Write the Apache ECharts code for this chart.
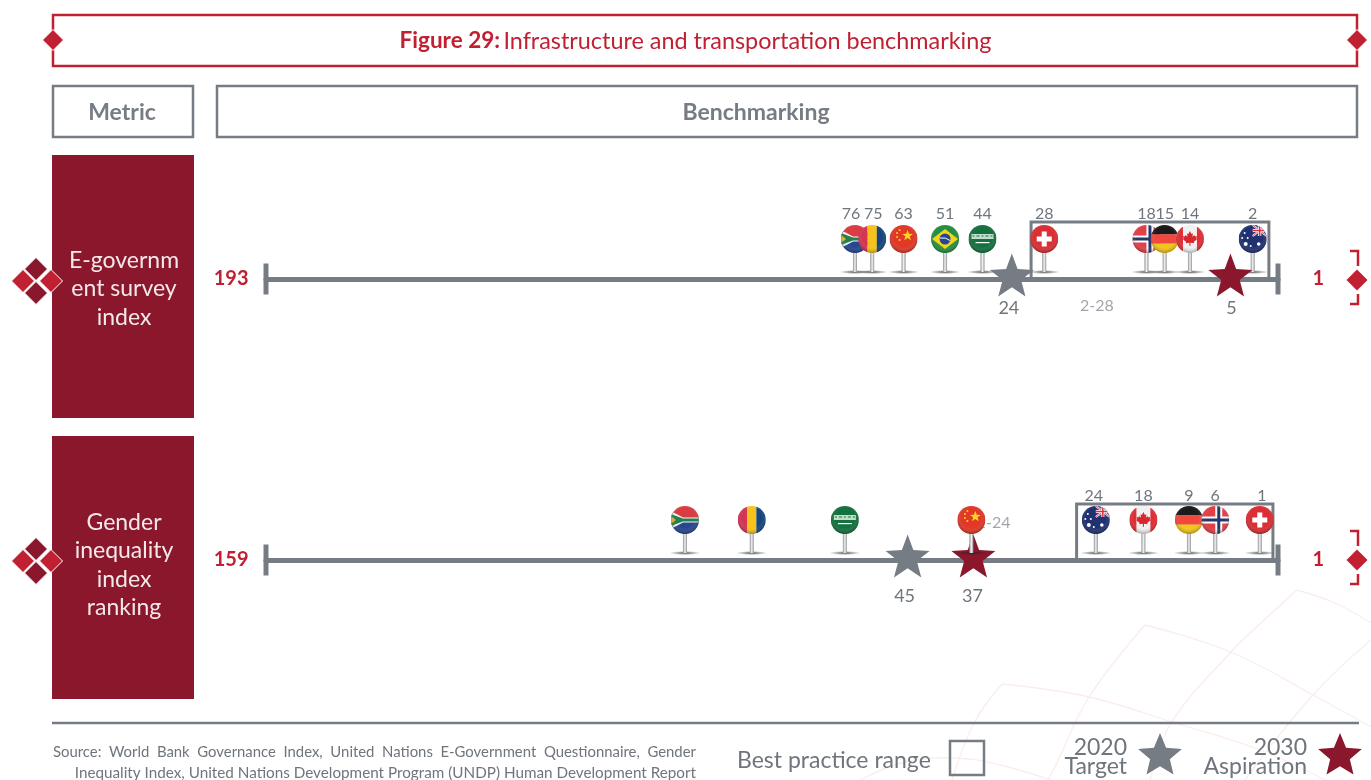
<!DOCTYPE html>
<html>
<head>
<meta charset="utf-8">
<title>Infrastructure and transportation benchmarking</title>
<script src="https://cdn.jsdelivr.net/npm/echarts@6/dist/echarts.min.js"></script>
<style>
html,body{margin:0;padding:0;background:#fff;overflow:hidden}
#chart{width:1371px;height:780px}
</style>
</head>
<body>
<div id="chart"></div>
<script>
// values. track = position along the line, 0 = worst rank end, 100 = rank 1 end
var metrics = ['E-governm\nent survey\nindex', 'Gender\ninequality\nindex\nranking'];
var worstRank = [193, 159];

var govCountries = ['za', 'ro', 'cn', 'br', 'sa', 'ch', 'no', 'de', 'ca', 'au'];
var govRanks = [76, 75, 63, 51, 44, 28, 18, 15, 14, 2];
var govTrack = [58.2, 59.9, 63.0, 67.1, 70.8, 76.9, 87.0, 88.8, 91.3, 97.5];
var govTarget = {rank: 24, track: 73.7};
var govAspiration = {rank: 5, track: 95.3};
var govRange = {label: '2-28', from: 75.6, to: 99.1, labelTrack: 82.1};

var genderCountries = ['za', 'ro', 'sa', 'cn', 'au', 'ca', 'de', 'no', 'ch'];
var genderRanks = [null, null, null, null, 24, 18, 9, 6, 1];
var genderTrack = [41.4, 48.0, 57.2, 69.7, 82.0, 86.7, 91.2, 93.8, 98.2];
var genderTarget = {rank: 45, track: 63.4};
var genderAspiration = {rank: 37, track: 69.9};
var genderRange = {label: '1-24', from: 80.1, to: 99.5, labelTrack: 71.9};

var RED = '#c12033', DARK = '#8a172b', GREY = '#767c84', TEXT = '#6f757c';
var FONT = 'Lato, "Open Sans", sans-serif';
var STAR = 'path://M50 0L63 35L100 37L71 60L81 97L50 76L19 97L29 60L0 37L37 35Z';
var labelNudge = {76: -4, 75: 1, 24: -2, 1: 2}; // pin labels that sit off their pin in the original

// flag artwork, all on a 28x28 box clipped to the round pin head
var flags = {
  za: '<rect width="28" height="14" fill="#d8343a"/><rect y="14" width="28" height="14" fill="#1d3f8c"/><path d="M0 4L12 14L0 24Z" fill="#111"/><path d="M0 5L12 11.500H28V16.500H12L0 23Z" fill="#fff" opacity=".95"/><path d="M0 8L12 12.500H28V15.500H12L0 20Z" fill="#1c7a48"/><path d="M0 10L5 14L0 18Z" fill="#e5ae2c"/>',
  ro: '<rect width="9.400" height="28" fill="#d42c4c"/><rect x="9.300" width="9.400" height="28" fill="#f7c012"/><rect x="18.600" width="9.400" height="28" fill="#0c3e78"/>',
  cn: '<rect width="28" height="28" fill="#e0301f"/><path d="M18 5l1.4 3.8 4 .1-3.200 2.400 1.200 3.900-3.400-2.300-3.300 2.300 1.100-3.900-3.200-2.400 4-.1z" fill="#f7d417"/><circle cx="10" cy="5" r="1" fill="#f7d417"/><circle cx="7.500" cy="8" r="1" fill="#f7d417"/><circle cx="7.500" cy="12" r="1" fill="#f7d417"/><circle cx="10" cy="15" r="1" fill="#f7d417"/>',
  br: '<rect width="28" height="28" fill="#1b8a3b"/><path d="M14 4L27 14L14 24L1 14Z" fill="#f4d20f"/><circle cx="14" cy="14" r="5.500" fill="#1c3f8f"/><path d="M9 13Q14.500 12 19 15.500" stroke="#fff" stroke-width="1" fill="none"/>',
  sa: '<rect width="28" height="28" fill="#0b6b38"/><rect x="3" y="9" width="22" height="5" fill="#dff0e4" opacity=".85"/><path d="M4 11h2M8 11h3M13 11h2M17 11h3M22 11h2" stroke="#0b6b38" stroke-width="1"/><rect x="7" y="17" width="14" height="1.200" fill="#fff"/>',
  ch: '<rect width="28" height="28" fill="#d9262c"/><rect x="11.500" y="6.500" width="5" height="15" fill="#fff"/><rect x="6.500" y="11.500" width="15" height="5" fill="#fff"/>',
  no: '<rect width="28" height="28" fill="#e0383e"/><rect x="14" width="7" height="28" fill="#fff"/><rect y="10.500" width="28" height="7" fill="#fff"/><rect x="16" width="3" height="28" fill="#1d2f66"/><rect y="12.500" width="28" height="3" fill="#1d2f66"/>',
  de: '<rect width="28" height="9.500" fill="#111"/><rect y="9.300" width="28" height="9.500" fill="#ef4036"/><rect y="18.600" width="28" height="9.500" fill="#f2c40f"/>',
  ca: '<rect width="28" height="28" fill="#f1f1f1"/><rect width="7" height="28" fill="#e0262c"/><rect x="21" width="7" height="28" fill="#e0262c"/><path d="M14 6l1.500 3 1.500-.8-.6 3.500 2-1.800.6 1.500 2-.3-.7 2.400 1 .6-3.500 2.800.4 1.400-3.700-.5.100 3h-1.200l.1-3-3.700.5.400-1.400-3.500-2.800 1-.6-.7-2.400 2 .3.600-1.500 2 1.800-.6-3.500 1.500.8z" fill="#d81e26"/>',
  au: '<rect width="28" height="28" fill="#17296b"/><rect x="14" width="14" height="11" fill="#1f3a8a"/><path d="M14 0L28 11M28 0L14 11" stroke="#fff" stroke-width="2"/><path d="M14 0L28 11M28 0L14 11" stroke="#d9262c" stroke-width=".8"/><path d="M21 0V11M14 5.500H28" stroke="#fff" stroke-width="3"/><path d="M21 0V11M14 5.500H28" stroke="#d9262c" stroke-width="1.500"/><circle cx="20" cy="19" r="1.800" fill="#fff"/><circle cx="6" cy="8" r="1" fill="#fff"/><circle cx="3.500" cy="13" r="1" fill="#fff"/><circle cx="9" cy="13" r="1" fill="#fff"/><circle cx="7" cy="19" r="2" fill="#fff"/><circle cx="12" cy="21" r="1" fill="#fff"/>'
};

function pinImage(code) {
  var svg = '<svg xmlns="http://www.w3.org/2000/svg" width="32" height="50" viewBox="0 0 32 50">' +
    '<defs><clipPath id="c"><circle cx="16" cy="14" r="14"/></clipPath>' +
    '<radialGradient id="s" cx=".5" cy=".42" r=".6"><stop offset=".6" stop-color="#fff" stop-opacity=".04"/><stop offset="1" stop-color="#000" stop-opacity=".38"/></radialGradient>' +
    '<radialGradient id="g"><stop offset="0" stop-color="#222" stop-opacity=".75"/><stop offset="1" stop-color="#222" stop-opacity="0"/></radialGradient>' +
    '<linearGradient id="m"><stop offset="0" stop-color="#8d9196"/><stop offset=".5" stop-color="#f2f2f2"/><stop offset="1" stop-color="#8d9196"/></linearGradient></defs>' +
    '<ellipse cx="16" cy="47" rx="15.500" ry="2" fill="url(#g)"/>' +
    '<rect x="14" y="26" width="4" height="21" fill="url(#m)"/>' +
    '<g clip-path="url(#c)"><g transform="translate(2 0)">' + flags[code] + '</g>' +
    '<circle cx="16" cy="14" r="14" fill="url(#s)"/></g></svg>';
  return 'image://data:image/svg+xml;charset=utf-8,' + encodeURIComponent(svg);
}

function diamond(cx, cy, r, fill, stroke) {
  return {type: 'polygon', silent: true,
    shape: {points: [[cx, cy - r], [cx + r, cy], [cx, cy + r], [cx - r, cy]]},
    style: {fill: fill, stroke: stroke || null, lineWidth: stroke ? 1 : 0}};
}
function line(pts, color, width) {
  return {type: 'polyline', silent: true, shape: {points: pts},
    style: {stroke: color, lineWidth: width, fill: null}};
}
function box(x, y, w, h, color, width, fill) {
  return {type: 'rect', silent: true, shape: {x: x, y: y, width: w, height: h},
    style: {stroke: color, lineWidth: width, fill: fill || null}};
}
function txt(x, y, text, size, color, weight, align, lineHeight) {
  return {type: 'text', silent: true, x: x, y: y,
    style: {text: text, fontFamily: FONT, fontSize: size, fontWeight: weight || 400, lineHeight: lineHeight,
      fill: color, align: align || 'center', verticalAlign: 'middle'}};
}
function starShape(cx, cy, r, color) {
  var p = [], i;
  for (i = 0; i < 10; i++) {
    var rad = i % 2 ? r * 0.45 : r, a = -Math.PI / 2 + i * Math.PI / 5;
    p.push([cx + rad * Math.cos(a), cy + rad * Math.sin(a)]);
  }
  return {type: 'polygon', silent: true, shape: {points: p}, style: {fill: color}};
}
function globeLine(pts) {
  return {type: 'polyline', silent: true, shape: {points: pts, smooth: 0.4},
    style: {stroke: '#fbeded', lineWidth: 1.3, fill: null}};
}

var sourceTop = txt(53, 752, 'Source:  World  Bank  Governance  Index,  United  Nations  E-Government  Questionnaire,  Gender', 15, TEXT, 400, 'left');
sourceTop.scaleX = 0.992; // first line is justified in the original

var graphics = [
  // faint globe lines behind the lower right corner
  globeLine([[1371, 623], [1335, 603], [1297, 590]]),
  globeLine([[1297, 590], [1262, 622], [1231, 652], [1171, 723], [1150, 780]]),
  globeLine([[1371, 727], [1313, 695], [1231, 652], [1145, 625]]),
  globeLine([[1145, 625], [1089, 697], [1055, 767], [1048, 780]]),
  globeLine([[1325, 780], [1260, 750], [1175, 723], [1089, 697], [1002, 684]]),
  globeLine([[1002, 684], [974, 723], [952, 780]]),
  globeLine([[860, 780], [905, 762], [955, 758], [1000, 765], [1051, 780]]),
  globeLine([[1371, 640], [1313, 695], [1245, 780]]),

  // title strip
  box(53, 15, 1304, 51, RED, 2.5),
  diamond(53, 40, 10.5, RED, '#fff'),
  diamond(1357, 40, 10.5, RED, '#fff'),
  {type: 'text', silent: true, x: 695.5, y: 41,
    style: {text: '{b|Figure 29:} {r|Infrastructure and transportation benchmarking}', align: 'center', verticalAlign: 'middle',
      rich: {b: {fontFamily: FONT, fontSize: 22.5, fontWeight: 700, fill: RED}, r: {fontFamily: FONT, fontSize: 23.4, fill: RED}}}},

  // column headers
  box(53, 86, 140, 51, GREY, 2.5),
  box(217, 86, 1140, 51, GREY, 2.5),
  txt(122, 113, 'Metric', 23, GREY, 700),
  txt(756, 113, 'Benchmarking', 23, GREY, 700),

  // footer
  line([[52, 723], [1359, 723]], GREY, 2.5),
  sourceTop,
  txt(696, 773, 'Inequality Index, United Nations Development Program (UNDP) Human Development Report', 15.25, TEXT, 400, 'right'),
  txt(737, 761, 'Best practice range', 23, TEXT, 400, 'left'),
  box(950, 741, 34, 34, GREY, 2.5),
  txt(1127, 748, '2020', 23, TEXT, 400, 'right'),
  txt(1127, 767, 'Target', 23, TEXT, 400, 'right'),
  starShape(1160, 756, 23, GREY),
  txt(1307, 748, '2030', 23, TEXT, 400, 'right'),
  txt(1307, 767, 'Aspiration', 23, TEXT, 400, 'right'),
  starShape(1340, 756, 23, DARK)
];

// left panel and end marks of each row
[{top: 155, mid: 280, textY: 289}, {top: 436, mid: 560, textY: 565}].forEach(function (row, i) {
  var m = row.mid;
  graphics.push(
    {type: 'rect', silent: true, shape: {x: 52, y: row.top, width: 142, height: 263}, style: {fill: DARK}},
    txt(124, row.textY, metrics[i], 23, '#f4e9ea', 400, 'center', 28.5),
    diamond(36, m - 11, 11.5, DARK, '#fff'),
    diamond(36, m + 13, 11.5, DARK, '#fff'),
    diamond(23, m + 1, 11.5, RED, '#fff'),
    diamond(51, m + 1, 11.5, RED, '#fff'),
    line([[1350, m - 29], [1358, m - 29], [1358, m - 14]], RED, 2.5),
    line([[1358, m + 14], [1358, m + 24], [1350, m + 24]], RED, 2.5),
    diamond(1357, m, 10.5, RED)
  );
});

var grids = [
  {left: 266, width: 1012, top: 179, height: 200},
  {left: 266, width: 1012, top: 460, height: 200}
];
var xAxes = grids.map(function (g, i) {
  return {type: 'value', gridIndex: i, min: 0, max: 100,
    axisLine: {show: true, onZero: true, lineStyle: {color: GREY, width: 5}},
    axisTick: {show: false}, axisLabel: {show: false}, splitLine: {show: false}};
});
var yAxes = grids.map(function (g, i) {
  return {type: 'value', gridIndex: i, min: -100, max: 100, show: false};
});

function rowSeries(i, countries, ranks, track, target, aspiration, range, labelDist, rangeY, rangeTop, starOverPins, starLabelGap, dxAspiration) {
  var starZ = starOverPins ? 6 : 3;
  var bx = {xAxisIndex: i, yAxisIndex: i, animation: false, silent: true};
  function add(o) { return Object.assign({}, bx, o); }
  function starSeries(item, color, dx) {
    return add({type: 'scatter', z: starZ, symbol: STAR, symbolSize: [44, 43], symbolKeepAspect: false,
      data: [{value: [item.track, 4], label: {show: true, formatter: String(item.rank), position: 'bottom', distance: starLabelGap,
        offset: [dx, 0], color: TEXT, fontFamily: FONT, fontSize: 18}}],
      itemStyle: {color: color, opacity: 1}});
  }
  return [
    add({type: 'custom', z: 2, clip: false, data: [[range.from, range.to, rangeTop]],
      renderItem: function (p, api) {
        var a = api.coord([api.value(0), 0]), b = api.coord([api.value(1), api.value(2)]);
        return {type: 'polyline', shape: {points: [[a[0], a[1]], [a[0], b[1]], [b[0], b[1]], [b[0], a[1]]]},
          style: {stroke: GREY, lineWidth: 3, fill: null}};
      }}),
    add({type: 'scatter', z: 2, symbolSize: 0,
      data: [[range.labelTrack, rangeY]],
      label: {show: true, formatter: range.label, position: 'inside', color: '#8b9097', fontFamily: FONT, fontSize: 16}}),
    add({type: 'scatter', z: 4, symbolSize: [5, 31], symbol: 'rect', itemStyle: {color: GREY, opacity: 1},
      data: [
        {value: [0, 0], label: {show: true, position: 'left', distance: 15, formatter: String(worstRank[i]), color: RED, fontFamily: FONT, fontWeight: 700, fontSize: 20}},
        {value: [100, 0], label: {show: true, position: 'right', distance: 32, formatter: '1', color: RED, fontFamily: FONT, fontWeight: 700, fontSize: 20}}
      ]}),
    starSeries(target, GREY, -3),
    starSeries(aspiration, DARK, dxAspiration),
    add({type: 'scatter', z: 5, symbolSize: [32, 50],
      data: track.map(function (t, k) {
        return {value: [t, 29], symbol: pinImage(countries[k]),
          label: {show: ranks[k] !== null, formatter: String(ranks[k]), position: 'top', distance: labelDist,
            offset: [labelNudge[ranks[k]] || 0, 0], color: TEXT, fontFamily: FONT, fontSize: 16}};
      }),
      itemStyle: {opacity: 1}})
  ];
}

var series = rowSeries(0, govCountries, govRanks, govTrack, govTarget, govAspiration, govRange, 3, -27, 57, true, 3, 1)
  .concat(rowSeries(1, genderCountries, genderRanks, genderTrack, genderTarget, genderAspiration, genderRange, 2, 37, 56, false, 10, -1));

var chart = echarts.init(document.getElementById('chart'), null, {renderer: 'canvas'});
chart.setOption({
  backgroundColor: '#fff',
  animation: false,
  grid: grids,
  xAxis: xAxes,
  yAxis: yAxes,
  graphic: graphics,
  series: series
});
</script>
</body>
</html>
